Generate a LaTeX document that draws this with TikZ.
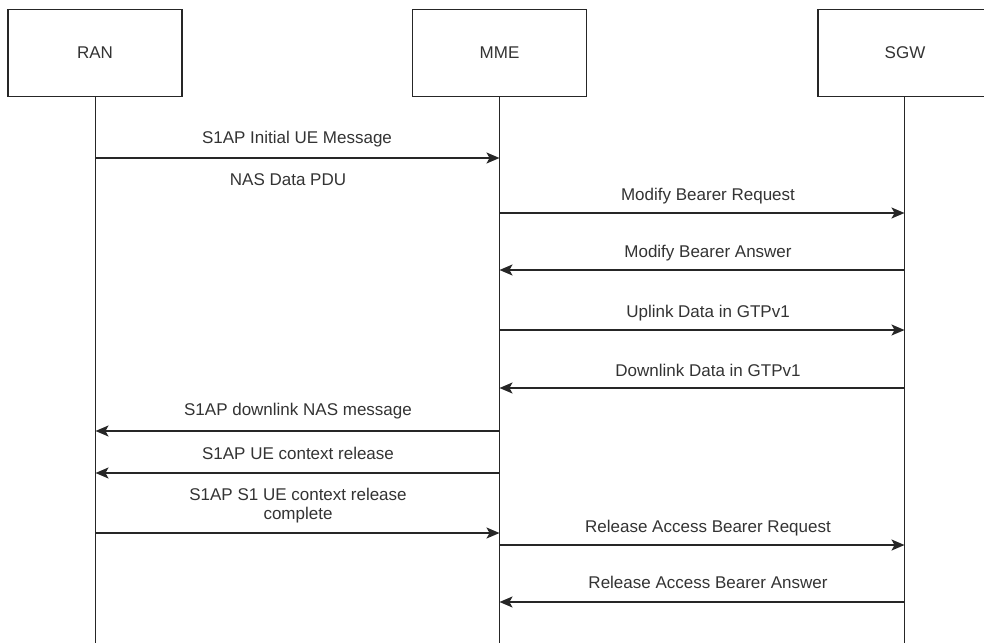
\documentclass[tikz,border=0pt]{standalone}
\usepackage{fontspec}
\setmainfont{Liberation Sans}
\usetikzlibrary{arrows.meta}

\begin{document}
\begin{tikzpicture}[x=1pt,y=-1pt,
    entity/.style={draw=black!85, line width=1.6pt, minimum width=174pt, minimum height=87pt, inner sep=0pt},
    life/.style={draw=black!85, line width=1.6pt},
    msg/.style={draw=black!85, line width=1.6pt, -{Stealth[length=13pt,width=11pt,inset=3pt]}},
    lbl/.style={text=black!80, font=\fontsize{17pt}{19pt}\selectfont, align=center}]

    \useasboundingbox (0,0) rectangle (984,642);
    \begin{scope}
    \clip (0,0) rectangle (984,642);

    % participants
    \node[entity, lbl] (ran) at (95,53) {RAN};
    \node[entity, lbl] (mme) at (499.5,53) {MME};
    \node[entity, lbl] (sgw) at (905,53) {SGW};

    \coordinate (ranend) at (95.5,645);
    \coordinate (mmeend) at (499.5,645);
    \coordinate (sgwend) at (904.5,645);
    \draw[life] (ran.south -| ranend) -- (ranend);
    \draw[life] (mme.south -| mmeend) -- (mmeend);
    \draw[life] (sgw.south -| sgwend) -- (sgwend);

    % messages
    \draw[msg] (ranend |- 0,158) -- (mmeend |- 0,158);
    \node[lbl] (m1) at (297,139) {S1AP Initial UE Message};
    \node[lbl] (m1b) at (288,180) {NAS Data PDU};

    \draw[msg] (mmeend |- 0,213) -- (sgwend |- 0,213);
    \node[lbl] (m2) at (708,196) {Modify Bearer Request};

    \draw[msg] (sgwend |- 0,270) -- (mmeend |- 0,270);
    \node[lbl] (m3) at (708,253) {Modify Bearer Answer};

    \draw[msg] (mmeend |- 0,330) -- (sgwend |- 0,330);
    \node[lbl] (m4) at (708,313) {Uplink Data in GTPv1};

    \draw[msg] (sgwend |- 0,388) -- (mmeend |- 0,388);
    \node[lbl] (m5) at (708,370) {Downlink Data in GTPv1};

    \draw[msg] (mmeend |- 0,431) -- (ranend |- 0,431);
    \node[lbl] (m6) at (298,411) {S1AP downlink NAS message};

    \draw[msg] (mmeend |- 0,473) -- (ranend |- 0,473);
    \node[lbl] (m7) at (298,453) {S1AP UE context release};

    \draw[msg] (ranend |- 0,533) -- (mmeend |- 0,533);
    \node[lbl] (m8) at (298,506) {S1AP S1 UE context release\\complete};

    \draw[msg] (mmeend |- 0,545) -- (sgwend |- 0,545);
    \node[lbl] (m9) at (708,528) {Release Access Bearer Request};

    \draw[msg] (sgwend |- 0,602) -- (mmeend |- 0,602);
    \node[lbl] (m10) at (708,582) {Release Access Bearer Answer};
    \end{scope}
\end{tikzpicture}
\end{document}
